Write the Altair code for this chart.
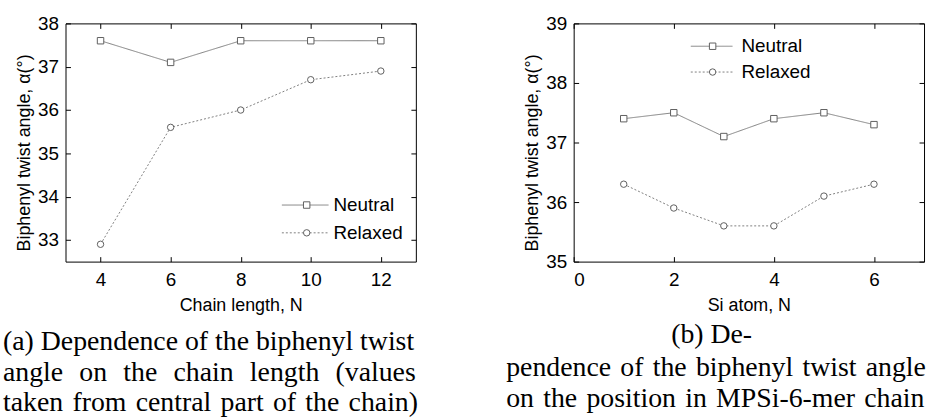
import altair as alt
import pandas as pd

# ---------------- data ----------------
series_names = ["Neutral", "Relaxed"]

chain_n = [4, 6, 8, 10, 12]
chain_neutral = [37.6, 37.1, 37.6, 37.6, 37.6]
chain_relaxed = [32.9, 35.6, 36.0, 36.7, 36.9]

si_n = [1, 2, 3, 4, 5, 6]
si_neutral = [37.4, 37.5, 37.1, 37.4, 37.5, 37.3]
si_relaxed = [36.3, 35.9, 35.6, 35.6, 36.1, 36.3]

chain_x_ticks = [4, 6, 8, 10, 12]
chain_y_ticks = [33, 34, 35, 36, 37, 38]
si_x_ticks = [0, 2, 4, 6]
si_y_ticks = [35, 36, 37, 38, 39]

y_title = "Biphenyl twist angle, α(°)"
# extra (non-collapsing) spaces imitate the justified caption lines
WIDE = " \u2004"
HAIR = " \u200a"
caption_a = ["(a) Dependence of the biphenyl twist",
             WIDE.join("angle on the chain length (values".split(" ")),
             HAIR.join("taken from central part of the chain)".split(" "))]
caption_b = ["(b) De-",
             HAIR.join("pendence of the biphenyl twist angle".split(" ")),
             HAIR.join("on the position in MPSi-6-mer chain".split(" "))]

# ---------------- style ----------------
W, H = 353, 240
TICK = 5
SANS = "Liberation Sans"
SERIF = "Liberation Serif"
LINE_GRAY = "#808080"
MARK_GRAY = "#606060"


def make_panel(xv, neutral, relaxed, x_dom, x_ticks, y_dom, y_ticks, x_title,
               leg, cap, cap_pos):
    df = pd.DataFrame({
        "N": list(xv) * 2,
        "angle": list(neutral) + list(relaxed),
        "series": [series_names[0]] * len(xv) + [series_names[1]] * len(xv),
    })
    xs = alt.Scale(domain=x_dom, nice=False, zero=False)
    ys = alt.Scale(domain=y_dom, nice=False, zero=False)
    dash = alt.StrokeDash("series:N", legend=None,
                          scale=alt.Scale(domain=series_names, range=[[1, 0], [2, 2]]))
    shape = alt.Shape("series:N", legend=None,
                      scale=alt.Scale(domain=series_names, range=["square", "circle"]))

    lines = alt.Chart(df).mark_line(color=LINE_GRAY, strokeWidth=1).encode(
        x=alt.X("N:Q", scale=xs, axis=alt.Axis(
            orient="bottom", values=x_ticks, title=x_title, offset=-TICK,
            tickSize=TICK, domain=False, grid=False, labelPadding=9,
            titlePadding=7, format="d")),
        y=alt.Y("angle:Q", scale=ys, axis=alt.Axis(
            orient="left", values=y_ticks, title=y_title, offset=-TICK,
            tickSize=TICK, domain=False, grid=False, labelPadding=7,
            titlePadding=4, titleY=130, format="d")),
        strokeDash=dash,
        detail="series:N",
    )
    points = alt.Chart(df).mark_point(filled=True, fill="white", stroke=MARK_GRAY,
                                      strokeWidth=1, size=42, opacity=1).encode(
        x=alt.X("N:Q", scale=xs, axis=alt.Axis(
            orient="top", values=x_ticks, title=None, labels=False, offset=-TICK,
            tickSize=TICK, domain=False, grid=False)),
        y=alt.Y("angle:Q", scale=ys, axis=alt.Axis(
            orient="right", values=y_ticks, title=None, labels=False, offset=-TICK,
            tickSize=TICK, domain=False, grid=False)),
        shape=shape,
    )
    layers = [lines, points]

    # legend (drawn by hand: line sample + marker + label)
    lx0, lx1, lxm, ltx, ly0, ldy = leg
    for i, name in enumerate(series_names):
        yy = ly0 + i * ldy
        ldf = pd.DataFrame({"label": [name]})
        layers.append(alt.Chart(ldf).mark_rule(
            color=LINE_GRAY, strokeWidth=1,
            strokeDash=[1, 0] if i == 0 else [2, 2]).encode(
            x=alt.value(lx0), x2=alt.value(lx1), y=alt.value(yy)))
        layers.append(alt.Chart(ldf).mark_point(
            filled=True, fill="white", stroke=MARK_GRAY, strokeWidth=1, size=42,
            opacity=1, shape="square" if i == 0 else "circle").encode(
            x=alt.value(lxm), y=alt.value(yy)))
        layers.append(alt.Chart(ldf).mark_text(
            font=SANS, fontSize=19, align="left", baseline="middle",
            color="black").encode(
            x=alt.value(ltx), y=alt.value(yy), text="label:N"))

    # caption lines
    for line, (cx, cy, al) in zip(cap, cap_pos):
        cdf = pd.DataFrame({"t": [line]})
        layers.append(alt.Chart(cdf).mark_text(
            font=SERIF, fontSize=28, align=al, baseline="alphabetic",
            color="black").encode(x=alt.value(cx), y=alt.value(cy), text="t:N"))

    return alt.layer(*layers).resolve_axis(x="independent", y="independent").properties(
        width=W, height=H)


left = make_panel(chain_n, chain_neutral, chain_relaxed, [3, 13], chain_x_ticks,
                  [32.5, 38], chain_y_ticks, "Chain length, N",
                  (218, 265, 243, 270, 183, 28),
                  caption_a,
                  [(-63, 329, "left"), (-63, 360, "left"), (-63, 391, "left")])
right = make_panel(si_n, si_neutral, si_relaxed, [0, 7], si_x_ticks,
                   [35, 39], si_y_ticks, "Si atom, N",
                   (118, 160, 140, 169, 23, 26),
                   caption_b,
                   [(139, 322, "center"), (-68, 355, "left"), (-68, 386, "left")])

chart = alt.hconcat(left, right, spacing=159, bounds="flush").properties(
    padding={"left": 2, "top": 12, "right": 0, "bottom": 0},
    background="white",
).configure_view(stroke="black", strokeWidth=1).configure_axis(
    labelFont=SANS, labelFontSize=19, labelColor="black",
    titleFont=SANS, titleFontSize=18, titleFontWeight="normal", titleColor="black",
    tickColor="black", tickWidth=1,
)

chart.save("out.html", embed_options={"renderer": "svg", "actions": False})
